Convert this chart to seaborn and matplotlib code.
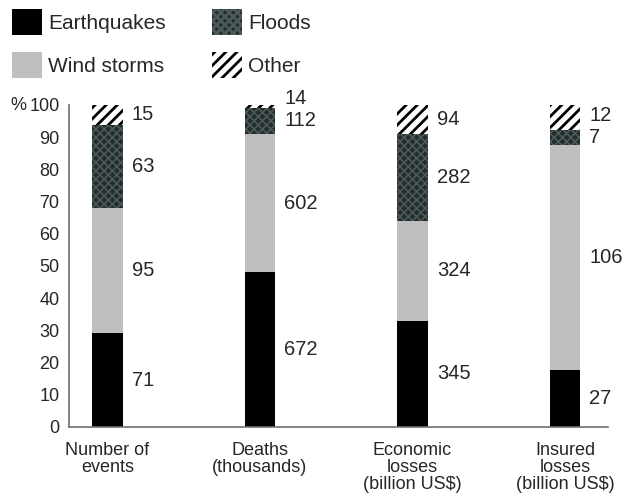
import numpy as np
import pandas as pd
import seaborn as sns
import matplotlib.pyplot as plt
from matplotlib.patches import Patch

# categories and raw values (percent share is computed from these)
categories = ['Number of\nevents', 'Deaths\n(thousands)',
              'Economic\nlosses\n(billion US$)', 'Insured\nlosses\n(billion US$)']
series = ['Earthquakes', 'Wind storms', 'Floods', 'Other']
earthquakes = [71, 672, 345, 27]
wind_storms = [95, 602, 324, 106]
floods = [63, 112, 282, 7]
other = [15, 14, 94, 12]

colors = {'Earthquakes': 'black', 'Wind storms': '#bfbfbf',
          'Floods': '#232d2d', 'Other': 'white'}
hatches = {'Earthquakes': None, 'Wind storms': None, 'Floods': 'xxxx', 'Other': '///'}
hatch_colors = {'Earthquakes': 'black', 'Wind storms': '#bfbfbf',
                'Floods': '#4b5958', 'Other': 'black'}
hatch_widths = {'Earthquakes': 1, 'Wind storms': 1, 'Floods': 1.2, 'Other': 2.0}

sns.set_style('white')
plt.rcParams['font.family'] = ['Liberation Sans', 'DejaVu Sans']
plt.rcParams['hatch.linewidth'] = 2.0

df = pd.DataFrame({'Earthquakes': earthquakes, 'Wind storms': wind_storms,
                   'Floods': floods, 'Other': other}, index=categories)
pct = df.div(df.sum(axis=1), axis=0) * 100
cum = pct.cumsum(axis=1)

fig = plt.figure(figsize=(6.24, 5.04), dpi=100)
ax = fig.add_axes([0.111, 0.153, 0.863, 0.639])


def style_patch(p, s):
    p.set_edgecolor(hatch_colors[s])
    p.set_linewidth(0)
    if hatches[s]:
        p.set_hatch(hatches[s])
        if hasattr(p, 'set_hatch_linewidth'):
            p.set_hatch_linewidth(hatch_widths[s])


# draw from the top layer down so each layer covers the one above
for s in reversed(series):
    n_before = len(ax.patches)
    sns.barplot(x=categories, y=cum[s].values, color=colors[s], width=0.2,
                saturation=1, ax=ax)
    for p in ax.patches[n_before:]:
        style_patch(p, s)

# value labels right of each segment
for i, cat in enumerate(categories):
    bottom = 0
    prev_y = -100
    for s in series:
        h = pct.loc[cat, s]
        y = bottom + h / 2
        if s == 'Other':
            y = max(y, prev_y + 7)
        ax.text(i + 0.16, y, str(df.loc[cat, s]), ha='left', va='center',
                fontsize=14.5)
        bottom += h
        prev_y = y

ax.set_ylim(0, 100)
ax.set_xlim(-0.25, 3.28)
ax.set_yticks(range(0, 101, 10))
ax.set_xticks(range(len(categories)))
ax.set_xticklabels(categories, fontsize=13, linespacing=1.0)
ax.set_xticks(np.arange(-0.25, 3.3, 0.5), minor=True)
ax.tick_params(axis='x', which='major', length=0, pad=11)
ax.tick_params(axis='x', which='minor', length=4, color='#707070', direction='out')
ax.tick_params(axis='y', length=5, color='#707070', direction='out',
               labelsize=13, pad=2)
ax.set_ylabel('')
for side in ['top', 'right']:
    ax.spines[side].set_visible(False)
for side in ['left', 'bottom']:
    ax.spines[side].set_color('#707070')
    ax.spines[side].set_linewidth(1.2)
ax.text(-0.109, 0.997, '%', transform=ax.transAxes, ha='left', va='center',
        fontsize=13)

handles = []
for s in series:
    hp = Patch(facecolor=colors[s], label=s)
    style_patch(hp, s)
    handles.append(hp)
fig.legend(handles=handles, loc='upper left', bbox_to_anchor=(0.019, 0.982),
           ncol=2, frameon=False, fontsize=15, handlelength=1.45,
           handleheight=1.55, handletextpad=0.3, labelspacing=0.8,
           columnspacing=2.2, borderpad=0, borderaxespad=0)

fig.savefig('out.png', dpi=100)
